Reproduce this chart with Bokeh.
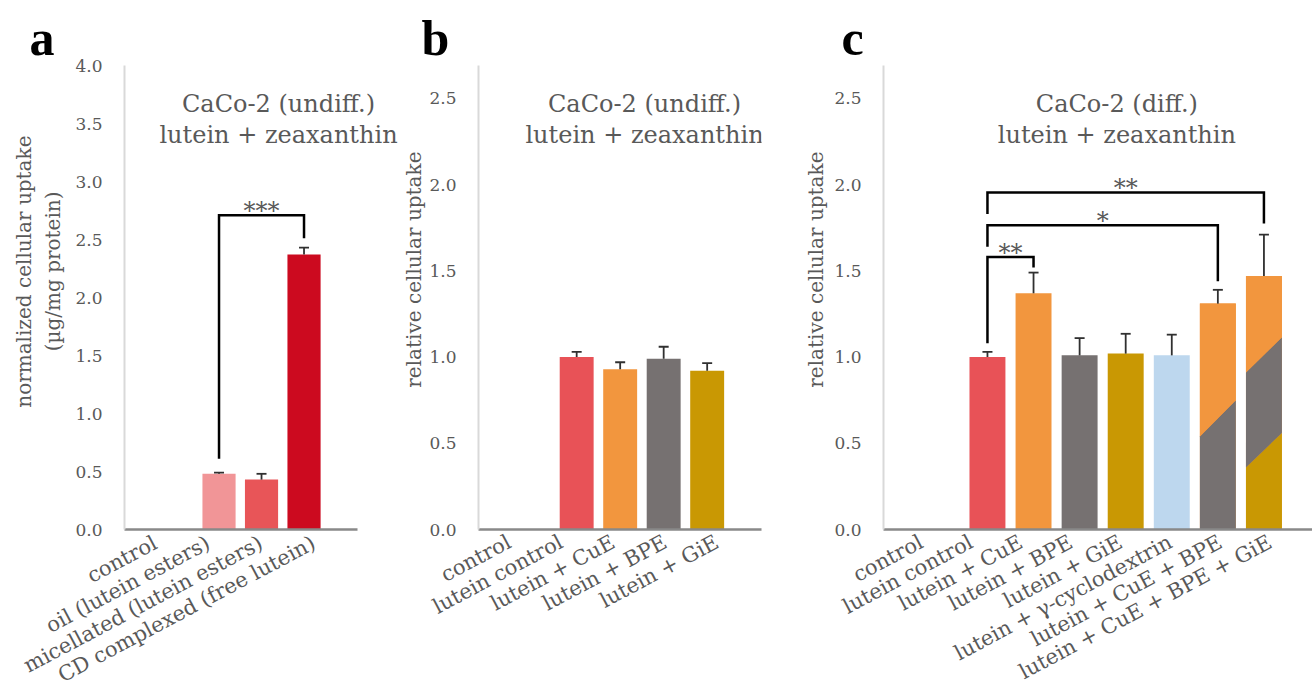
import math
from bokeh.plotting import figure
from bokeh.models import Range1d, FixedTicker, Label, Whisker, TeeHead, ColumnDataSource, PrintfTickFormatter, Title
from bokeh.layouts import row
from bokeh.core.properties import value
from bokeh.embed import file_html
from bokeh.resources import INLINE

# ---------------- data ----------------
a_categories = ["control", "oil (lutein esters)", "micellated (lutein esters)", "CD complexed (free lutein)"]
a_values = [0.0, 0.48, 0.43, 2.37]
a_errors = [0.0, 0.01, 0.05, 0.06]
a_colors = ["#F19597", "#F19597", "#E85558", "#CC0A1F"]
a_yticks = [0.0, 0.5, 1.0, 1.5, 2.0, 2.5, 3.0, 3.5, 4.0]
a_br_from = [1]
a_br_to = [3]
a_br_left = [0.61]
a_br_top = [2.71]
a_br_right = [2.51]
a_br_text = ["***"]

b_categories = ["control", "lutein control", "lutein + CuE", "lutein + BPE", "lutein + GiE"]
b_values = [0.0, 1.00, 0.93, 0.99, 0.92]
b_errors = [0.0, 0.03, 0.04, 0.07, 0.045]
b_colors = ["#E85257", "#E85257", "#F2963E", "#767171", "#C99803"]
bc_yticks = [0.0, 0.5, 1.0, 1.5, 2.0, 2.5]

c_categories = ["control", "lutein control", "lutein + CuE", "lutein + BPE", "lutein + GiE",
                "lutein + \u03b3-cyclodextrin", "lutein + CuE + BPE", "lutein + CuE + BPE + GiE"]
c_values = [0.0, 1.00, 1.37, 1.01, 1.02, 1.01, 1.31, 1.47]
c_errors = [0.0, 0.03, 0.12, 0.10, 0.115, 0.12, 0.08, 0.24]
c_colors = ["#E85257", "#E85257", "#F2963E", "#767171", "#C99803", "#BDD7EE", "#F2963E", "#F2963E"]
# striped (mixed) bars: index, split lines (left value, right value), segment colours bottom->top
c_mix_index = [6, 7]
c_mix_splits = [[(0.54, 0.75)], [(0.36, 0.56), (0.91, 1.115)]]
c_mix_colors = [["#767171", "#F2963E"], ["#C99803", "#767171", "#F2963E"]]
c_br_from = [1, 1, 1]
c_br_to = [2, 6, 7]
c_br_left = [1.08, 1.64, 1.83]
c_br_top = [1.58, 1.765, 1.955]
c_br_right = [1.52, 1.44, 1.775]
c_br_text = ["**", "*", "**"]

FONT = "DejaVu Serif"
GRAY = "#595959"
BAR_W = 0.78
TOP, BASE = 65, 530


def make_panel(width, bl, br, xr, ymax, yticks, cats, lab_start, lab_pitch, lab_standoff, axis_end=None):
    p = figure(width=width, height=700, x_range=Range1d(*xr), y_range=Range1d(0, ymax),
               output_backend="svg", toolbar_location=None,
               min_border_left=bl, min_border_right=br, min_border_top=TOP,
               min_border_bottom=700 - BASE)
    p.grid.visible = False
    p.outline_line_color = None
    ya = p.yaxis[0]
    ya.ticker = FixedTicker(ticks=yticks)
    ya.formatter = PrintfTickFormatter(format="%.1f")
    ya.axis_line_color = "#D9D9D9"
    ya.axis_line_width = 2
    ya.major_tick_line_color = None
    ya.minor_tick_line_color = None
    ya.major_tick_out = 0
    ya.major_label_standoff = 22
    ya.major_label_text_font = FONT
    ya.major_label_text_font_size = "17px"
    ya.major_label_text_color = GRAY
    xa = p.xaxis[0]
    pos = [round(lab_start + lab_pitch * i, 4) for i in range(len(cats))]
    xa.ticker = FixedTicker(ticks=pos)
    xa.major_label_overrides = {pos[i]: cats[i] for i in range(len(cats))}
    xa.axis_line_color = "#898989"
    xa.axis_line_width = 2.5
    xa.major_tick_line_color = None
    xa.minor_tick_line_color = None
    xa.major_tick_out = 0
    xa.major_label_standoff = lab_standoff
    xa.major_label_orientation = math.radians(28)
    xa.major_label_text_font = FONT
    xa.major_label_text_font_size = "21px"
    xa.major_label_text_color = GRAY
    if axis_end is not None:
        xa.bounds = (xr[0], axis_end)
    return p


def to_data(p, page_left, ymax, px, py):
    fl = page_left + p.min_border_left
    fw = p.width - p.min_border_left - p.min_border_right
    x = p.x_range.start + (px - fl) / fw * (p.x_range.end - p.x_range.start)
    y = (BASE - py) / (BASE - TOP) * ymax
    return x, y


def bars(p, vals, errs, colors):
    idx = list(range(len(vals)))
    p.vbar(x=idx, top=vals, width=BAR_W, fill_color=colors, line_color=None)
    keep = [i for i in idx if vals[i] > 0]
    src = ColumnDataSource(dict(x=keep, lower=[vals[i] for i in keep],
                                upper=[vals[i] + errs[i] for i in keep]))
    w = Whisker(source=src, base="x", lower="lower", upper="upper", lower_head=None,
                upper_head=TeeHead(size=10, line_color="#303030", line_width=1.8),
                line_color="#303030", line_width=1.8, level="overlay")
    p.add_layout(w)


def brackets(p, ymax, fr, to, left, top, right, texts):
    xs = [[fr[k], fr[k], to[k], to[k]] for k in range(len(fr))]
    ys = [[left[k], top[k], top[k], right[k]] for k in range(len(fr))]
    p.multi_line(xs=xs, ys=ys, line_color="black", line_width=2.5, line_join="miter")
    off = 4 / (BASE - TOP) * ymax
    p.text(x=[(fr[k] + to[k]) / 2 for k in range(len(fr))], y=[t + off for t in top], text=texts,
           text_align="center", text_baseline="alphabetic", text_font=value(FONT),
           text_font_size="24px", text_color=GRAY)


def titles(p, page_left, ymax, title, title_px):
    for line, py in zip(title, [104, 135]):
        x, y = to_data(p, page_left, ymax, title_px, py)
        p.add_layout(Label(x=x, y=y, text=line, text_font=FONT, text_font_size="24px",
                           text_color=GRAY, text_align="center", text_baseline="middle"))


def letter(p, text, offset):
    p.add_layout(Title(text=text, align="left", offset=offset, vertical_align="bottom", standoff=0,
                       text_font="Liberation Serif", text_font_style="bold", text_font_size="50px",
                       text_color="black"), "above")


def ylabel(p, text, top_px, standoff):
    p.add_layout(Title(text=text, align="right", offset=top_px - TOP, vertical_align="middle",
                       standoff=standoff, text_font=FONT, text_font_style="normal",
                       text_font_size="20px", text_color=GRAY), "left")


# ---------------- panel a ----------------
pa = make_panel(400, 124, 0, (-1.224, 5.270), 4.0, a_yticks, a_categories, -0.494, 1.242, 12,
                axis_end=4.259)
bars(pa, a_values, a_errors, a_colors)
brackets(pa, 4.0, a_br_from, a_br_to, a_br_left, a_br_top, a_br_right, a_br_text)
titles(pa, 0, 4.0, ["CaCo-2 (undiff.)", "lutein + zeaxanthin"], 278)
letter(pa, "a", -95)
ylabel(pa, "(\u00b5g/mg protein)", 191, 12.6)
ylabel(pa, "normalized cellular uptake", 135, -7.4)

# ---------------- panel b ----------------
pb = make_panel(400, 78, 39, (-1.257, 5.249), 2.691, bc_yticks, b_categories, -0.546, 1.194, 11)
bars(pb, b_values, b_errors, b_colors)
titles(pb, 400, 2.691, ["CaCo-2 (undiff.)", "lutein + zeaxanthin"], 644)
letter(pb, "b", -57)
ylabel(pb, "relative cellular uptake", 151, 0)

# ---------------- panel c ----------------
pc = make_panel(512, 80, 0, (-1.256, 8.054), 2.691, bc_yticks, c_categories, -0.431, 1.0815, 11)
bars(pc, c_values, c_errors, c_colors)
mxs, mys, mcols = [], [], []
for k, i in enumerate(c_mix_index):
    l, r = i - BAR_W / 2, i + BAR_W / 2
    lines = [(0.0, 0.0)] + list(c_mix_splits[k]) + [(c_values[i], c_values[i])]
    for s in range(len(lines) - 1):
        lo, hi = lines[s], lines[s + 1]
        mxs.append([l, r, r, l])
        mys.append([lo[0], lo[1], hi[1], hi[0]])
        mcols.append(c_mix_colors[k][s])
pc.patches(xs=mxs, ys=mys, fill_color=mcols, line_color=None)
brackets(pc, 2.691, c_br_from, c_br_to, c_br_left, c_br_top, c_br_right, c_br_text)
titles(pc, 800, 2.691, ["CaCo-2 (diff.)", "lutein + zeaxanthin"], 1115)
letter(pc, "c", -42)
ylabel(pc, "relative cellular uptake", 151, 5)

layout = row(pa, pb, pc)
open("out.html", "w").write(file_html(layout, INLINE))
